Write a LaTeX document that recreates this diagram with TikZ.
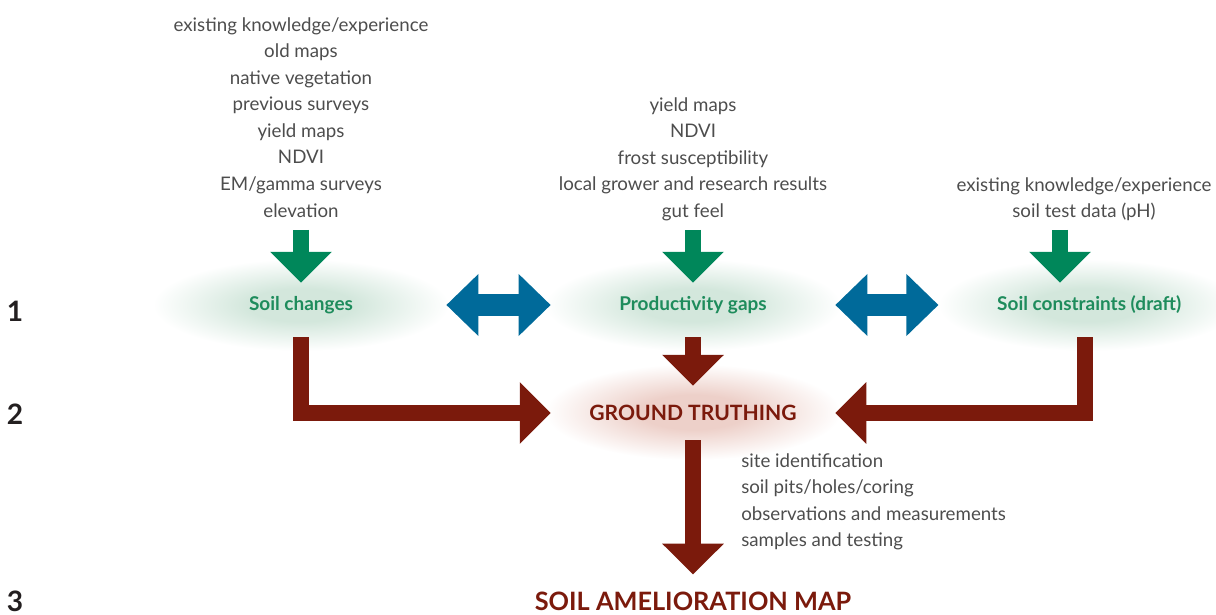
\documentclass[tikz,border=0pt]{standalone}
\usepackage{fontspec}
\setmainfont{Lato}
\usetikzlibrary{arrows.meta,positioning}

\definecolor{txtgray}{HTML}{4D4D4D}
\definecolor{numblack}{HTML}{231F20}
\definecolor{labgreen}{HTML}{1E8C5C}
\definecolor{arrgreen}{HTML}{00875A}
\definecolor{arrblue}{HTML}{006A9A}
\definecolor{arrred}{HTML}{7B1A0C}
\definecolor{glowgreen}{HTML}{D3E7DC}
\definecolor{glowred}{HTML}{EDD0C9}

\pgfdeclareradialshading{greenglow}{\pgfpoint{0bp}{0bp}}{color(0bp)=(glowgreen); color(9bp)=(glowgreen); color(25bp)=(white); color(50bp)=(white)}
\pgfdeclareradialshading{redglow}{\pgfpoint{0bp}{0bp}}{color(0bp)=(glowred); color(9bp)=(glowred); color(25bp)=(white); color(50bp)=(white)}

\tikzset{
  srctext/.style={text=txtgray, font=\fontsize{13.3}{18.9}\selectfont, align=center, inner sep=0pt},
  steptext/.style={text=labgreen, font=\bfseries\fontsize{13.5}{15}\selectfont, minimum height=45.5pt, inner sep=0pt},
  numtext/.style={text=numblack, font=\bfseries\fontsize{20}{22}\selectfont, inner sep=0pt},
  greenarrow/.style={draw=arrgreen, line width=11.38pt, -{Triangle[width=42.7pt,length=22pt]}},
  bluearrow/.style={draw=arrblue, line width=15.65pt, {Triangle[width=42.7pt,length=22.8pt]}-{Triangle[width=42.7pt,length=22.8pt]}},
  redarrow/.style={draw=arrred, line width=11.38pt, line join=miter, -{Triangle[width=42.7pt,length=22pt]}}
}

\begin{document}
\begin{tikzpicture}[x=0.025cm,y=-0.025cm]
\useasboundingbox (0,0) rectangle (1216,615);

% glows
\shade[shading=greenglow] (301,305) ellipse [x radius=148, y radius=46];
\shade[shading=greenglow] (693,305) ellipse [x radius=148, y radius=46];
\shade[shading=greenglow] (1088,305) ellipse [x radius=150, y radius=46];
\shade[shading=redglow] (693,412) ellipse [x radius=148, y radius=48];

% row numbers
\node[numtext] (row1) at (15,311) {1};
\node[numtext] (row2) at (15,414) {2};
\node[numtext] (row3) at (15,601) {3};

% inputs
\node[srctext, anchor=north] (changesSrc) at (301,17) {existing knowledge/experience\\old maps\\native vegetation\\previous surveys\\yield maps\\NDVI\\EM/gamma surveys\\elevation};
\node[srctext, anchor=north] (gapsSrc) at (693,97) {yield maps\\NDVI\\frost susceptibility\\local grower and research results\\gut feel};
\node[srctext, anchor=north] (constrSrc) at (1084,177) {existing knowledge/experience\\soil test data (pH)};
\node[srctext, align=left, anchor=north west] (truthSrc) at (741,453) {site identification\\soil pits/holes/coring\\observations and measurements\\samples and testing};

% steps
\node[steptext, minimum width=206.3pt] (changes) at (301,305) {Soil changes};
\node[steptext, minimum width=202pt] (gaps) at (693,305) {Productivity gaps};
\node[steptext, minimum width=208pt] (constraints) at (1085,305) {\hspace{6pt}Soil constraints (draft)};
\node[text=arrred, font=\bfseries\fontsize{15}{18}\selectfont, minimum width=202pt, minimum height=38.4pt, inner sep=0pt] (truth) at (693,413) {GROUND TRUTHING};
\node[text=arrred, font=\bfseries\fontsize{18}{22}\selectfont, inner xsep=0pt, inner ysep=12pt] (map) at (693,601) {SOIL AMELIORATION MAP};

\coordinate (changesIn) at (301,230);
\coordinate (gapsIn) at (693,230);
\coordinate (constrIn) at (1060,230);

% arrows
\draw[greenarrow, shorten >=-7.1pt] (changesIn) -- (changes.north);
\draw[greenarrow, shorten >=-7.1pt] (gapsIn) -- (gaps.north);
\draw[greenarrow, shorten >=-7.1pt] (constrIn) -- (constrIn |- constraints.north);

\draw[bluearrow] (changes.east) -- (gaps.west);
\draw[bluearrow] (gaps.east) -- (constraints.west);

\draw[redarrow] (changes.south) |- (truth.west);
\draw[redarrow] (gaps.south) -- (truth.north);
\draw[redarrow] (constraints.south) |- (truth.east);
\draw[redarrow] (truth.south) -- (map.north);

\end{tikzpicture}
\end{document}
